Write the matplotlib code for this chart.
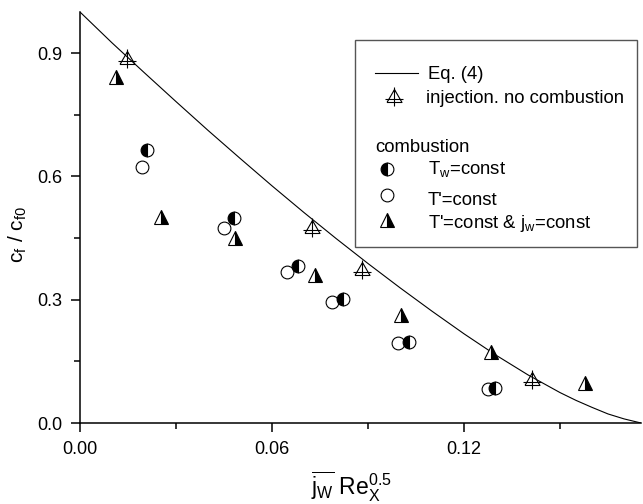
import numpy as np
import matplotlib
matplotlib.use("Agg")
import matplotlib.pyplot as plt
from matplotlib.path import Path
from matplotlib.patches import Rectangle

plt.rcParams["font.family"] = ["Liberation Sans", "DejaVu Sans"]
plt.rcParams["mathtext.fontset"] = "custom"
plt.rcParams["mathtext.rm"] = "Liberation Sans"
plt.rcParams["mathtext.it"] = "Liberation Sans"
plt.rcParams["mathtext.default"] = "regular"

# Eq. (4) curve
eq4_x = [0.0, 0.01, 0.02, 0.03, 0.04, 0.05, 0.06, 0.07, 0.08, 0.09,
         0.10, 0.11, 0.12, 0.13, 0.14, 0.15, 0.155, 0.16, 0.165, 0.17, 0.1753]
eq4_y = [1.0, 0.925, 0.853, 0.782, 0.712, 0.644, 0.577, 0.512, 0.449, 0.388,
         0.329, 0.272, 0.217, 0.165, 0.117, 0.074, 0.055, 0.038, 0.022, 0.010, 0.0]

# injection, no combustion
inj_x = [0.0147, 0.0724, 0.0882, 0.1411]
inj_y = [0.886, 0.474, 0.372, 0.105]

# combustion, T_w = const
tw_x = [0.0210, 0.0480, 0.0682, 0.0821, 0.1029, 0.1297]
tw_y = [0.664, 0.498, 0.382, 0.302, 0.198, 0.084]

# combustion, T' = const
tp_x = [0.0194, 0.0450, 0.0646, 0.0786, 0.0995, 0.1276]
tp_y = [0.624, 0.474, 0.368, 0.295, 0.194, 0.082]

# combustion, T' = const & j_w = const
tj_x = [0.0113, 0.0253, 0.0484, 0.0734, 0.1002, 0.1283, 0.1578]
tj_y = [0.842, 0.501, 0.450, 0.360, 0.263, 0.1735, 0.0965]

# triangle with a cross through it
cross_tri = Path(
    [(-7.5, -5), (7.5, -5), (0, 8), (-7.5, -5),
     (-9, -2), (9, -2),
     (0, 10), (0, -9)],
    [Path.MOVETO, Path.LINETO, Path.LINETO, Path.LINETO,
     Path.MOVETO, Path.LINETO,
     Path.MOVETO, Path.LINETO],
)

W, H = 643, 504
fig = plt.figure(figsize=(W / 100, H / 100), dpi=100)
L, R, T, B = 80, 641, 12, 423
ax = fig.add_axes([L / W, 1 - B / H, (R - L) / W, (B - T) / H])

ax.plot(eq4_x, eq4_y, color="black", lw=0.8, zorder=2)

tri_kw = dict(ls="none", marker="^", ms=10.5, mec="black", mew=0.8,
              fillstyle="right", mfc="black", mfcalt="white", zorder=4)
circ_half_kw = dict(ls="none", marker="o", ms=9.2, mec="black", mew=0.8,
                    fillstyle="left", mfc="black", mfcalt="white", zorder=4)
circ_open_kw = dict(ls="none", marker="o", ms=9.2, mec="black", mew=0.8,
                    mfc="white", zorder=4)
inj_kw = dict(ls="none", marker=cross_tri, ms=14.4, mec="black", mew=0.8,
              mfc="none", zorder=4)

ax.plot(tp_x, tp_y, **circ_open_kw)
ax.plot(tw_x, tw_y, **circ_half_kw)
ax.plot(tj_x, tj_y, **tri_kw)
ax.plot(inj_x, inj_y, **inj_kw)

ax.set_xlim(0, 0.1753)
ax.set_ylim(0, 1.0)
ax.set_xticks([0.0, 0.06, 0.12])
ax.set_xticklabels(["0.00", "0.06", "0.12"])
ax.set_xticks([0.03, 0.09, 0.15], minor=True)
ax.set_yticks([0.0, 0.3, 0.6, 0.9])
ax.set_yticklabels(["0.0", "0.3", "0.6", "0.9"])
ax.set_yticks([0.15, 0.45, 0.75], minor=True)

for s in ["top", "right"]:
    ax.spines[s].set_visible(False)
for s in ["left", "bottom"]:
    ax.spines[s].set_linewidth(1.1)
ax.tick_params(which="major", direction="out", length=6.5, width=1.1,
               labelsize=13, pad=6.5)
ax.tick_params(which="minor", direction="out", length=4, width=1.1)

ax.set_ylabel(r"$c_f\ /\ c_{f0}$", fontsize=15)
ax.yaxis.set_label_coords((29 - L) / (R - L), (B - 235) / (B - T))
ax.set_xlabel(r"$\overline{j_W}\ Re_X^{0.5}$", fontsize=16.5)
ax.xaxis.set_label_coords((352 - L) / (R - L), (B - 470) / (B - T))


# legend drawn by hand in axes coordinates (pixel layout)
def px(x, y):
    return (x - L) / (R - L), (B - y) / (B - T)


x0, y0 = px(355, 247)
x1, y1 = px(637, 40)
ax.add_patch(Rectangle((x0, y0), x1 - x0, y1 - y0, transform=ax.transAxes,
                       fc="white", ec="#555555", lw=1.0, zorder=5,
                       clip_on=False))

lx0, ly = px(375, 73)
lx1, _ = px(418, 73)
ax.plot([lx0, lx1], [ly, ly], color="black", lw=0.8, transform=ax.transAxes,
        zorder=6, clip_on=False)

legend_marks = [
    (394, 97, inj_kw),
    (387, 169, circ_half_kw),
    (387, 195, circ_open_kw),
    (387, 220, tri_kw),
]
for mx, my, kw in legend_marks:
    p = px(mx, my)
    kw = dict(kw, zorder=6)
    ax.plot([p[0]], [p[1]], transform=ax.transAxes, clip_on=False, **kw)

legend_texts = [
    (428, 79, "Eq. (4)"),
    (426, 103, "injection. no combustion"),
    (375, 152, "combustion"),
    (428, 174, r"$T_w$=const"),
    (428, 205, "T'=const"),
    (428, 228, r"T'=const & $j_w$=const"),
]
for tx, ty, s in legend_texts:
    p = px(tx, ty)
    ax.text(p[0], p[1], s, transform=ax.transAxes, fontsize=13.3,
            va="baseline", ha="left", zorder=6)

fig.savefig("out.png", dpi=100)
